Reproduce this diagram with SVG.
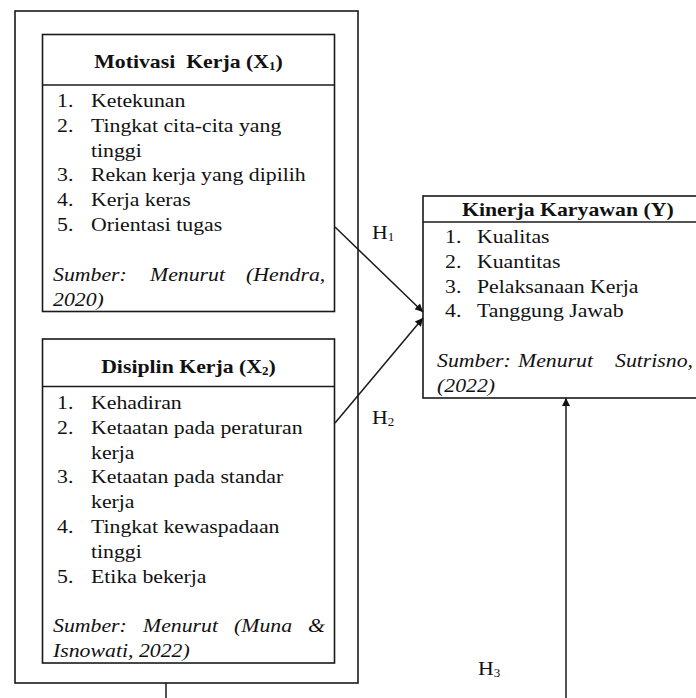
<svg xmlns="http://www.w3.org/2000/svg" width="696" height="698" viewBox="0 0 696 698">
<style>
  .box { fill: none; stroke: #1a1a1a; stroke-width: 1.6; }
  .ln { stroke: #1a1a1a; stroke-width: 1.6; }
  .t { font-family: "Liberation Serif", "Times New Roman", serif; font-size: 21.8px; fill: #111; }
  .b { font-weight: bold; }
  .i { font-style: italic; }
  .sub { font-size: 13px; }
  .con { stroke: #1a1a1a; stroke-width: 1.5; fill: none; }
</style>
<defs>
  <marker id="ah" viewBox="0 0 10 10" refX="10" refY="5" markerWidth="10" markerHeight="8" markerUnits="userSpaceOnUse" orient="auto">
    <path d="M0,0 L10,5 L0,10 Z" fill="#111"/>
  </marker>
</defs>
<rect width="696" height="698" fill="#fff"/>

<g id="outer">
  <rect class="box" x="15" y="11" width="343" height="672"/>
</g>

<g id="x1">
  <rect class="box" x="42.5" y="34.5" width="292" height="277"/>
  <line class="ln" x1="42.5" y1="85" x2="334.5" y2="85"/>
  <g transform="scale(1,0.9)">
    <text class="t b" x="188.5" y="76.11" text-anchor="middle" xml:space="preserve">Motivasi  Kerja (X<tspan class="sub" dy="2">1</tspan><tspan dy="-2">)</tspan></text>
    <text class="t" x="57" y="118.89">1.</text><text class="t" x="91" y="118.89">Ketekunan</text>
    <text class="t" x="57" y="146.44">2.</text><text class="t" x="91" y="146.44">Tingkat cita-cita yang</text>
    <text class="t" x="91" y="174">tinggi</text>
    <text class="t" x="57" y="201.56">3.</text><text class="t" x="91" y="201.56">Rekan kerja yang dipilih</text>
    <text class="t" x="57" y="229.11">4.</text><text class="t" x="91" y="229.11">Kerja keras</text>
    <text class="t" x="57" y="256.67">5.</text><text class="t" x="91" y="256.67">Orientasi tugas</text>
    <text class="t i" y="312.22"><tspan x="53">Sumber:</tspan><tspan x="150">Menurut</tspan><tspan x="246">(Hendra,</tspan></text>
    <text class="t i" x="53" y="340">2020)</text>
  </g>
</g>

<g id="x2">
  <rect class="box" x="42.5" y="339" width="292" height="324"/>
  <line class="ln" x1="42.5" y1="386.5" x2="334.5" y2="386.5"/>
  <g transform="scale(1,0.9)">
    <text class="t b" x="188.5" y="414.44" text-anchor="middle">Disiplin Kerja (X<tspan class="sub" dy="2">2</tspan><tspan dy="-2">)</tspan></text>
    <text class="t" x="57" y="454.44">1.</text><text class="t" x="91" y="454.44">Kehadiran</text>
    <text class="t" x="57" y="482">2.</text><text class="t" x="91" y="482">Ketaatan pada peraturan</text>
    <text class="t" x="91" y="509.56">kerja</text>
    <text class="t" x="57" y="537.11">3.</text><text class="t" x="91" y="537.11">Ketaatan pada standar</text>
    <text class="t" x="91" y="564.67">kerja</text>
    <text class="t" x="57" y="592.22">4.</text><text class="t" x="91" y="592.22">Tingkat kewaspadaan</text>
    <text class="t" x="91" y="619.78">tinggi</text>
    <text class="t" x="57" y="647.33">5.</text><text class="t" x="91" y="647.33">Etika bekerja</text>
    <text class="t i" y="702.22"><tspan x="53">Sumber:</tspan><tspan x="143">Menurut</tspan><tspan x="234">(Muna</tspan><tspan x="308">&amp;</tspan></text>
    <text class="t i" x="53" y="730">Isnowati, 2022)</text>
  </g>
</g>

<g id="y">
  <rect class="box" x="423" y="196" width="300" height="202"/>
  <line class="ln" x1="423" y1="222" x2="723" y2="222"/>
  <g transform="scale(1,0.9)">
    <text class="t b" x="462" y="240">Kinerja Karyawan (Y)</text>
    <text class="t" x="445" y="270">1.</text><text class="t" x="477" y="270">Kualitas</text>
    <text class="t" x="445" y="297.56">2.</text><text class="t" x="477" y="297.56">Kuantitas</text>
    <text class="t" x="445" y="325.11">3.</text><text class="t" x="477" y="325.11">Pelaksanaan Kerja</text>
    <text class="t" x="445" y="352.67">4.</text><text class="t" x="477" y="352.67">Tanggung Jawab</text>
    <text class="t i" y="407.78"><tspan x="437">Sumber:</tspan><tspan x="518">Menurut</tspan><tspan x="615">Sutrisno,</tspan></text>
    <text class="t i" x="437" y="435.56">(2022)</text>
  </g>
</g>

<g id="connectors">
  <path class="con" d="M335,227 L423,312" marker-end="url(#ah)"/>
  <path class="con" d="M335,423 L423,318" marker-end="url(#ah)"/>
  <path class="con" d="M566,698 L566,398" marker-end="url(#ah)"/>
  <path class="con" d="M166,683 L166,698"/>
</g>

<g id="labels" transform="scale(1,0.9)">
  <text class="t" x="372" y="265.56">H<tspan class="sub" dy="2">1</tspan></text>
  <text class="t" x="372" y="471.11">H<tspan class="sub" dy="2">2</tspan></text>
  <text class="t" x="478" y="750">H<tspan class="sub" dy="2">3</tspan></text>
</g>
</svg>
